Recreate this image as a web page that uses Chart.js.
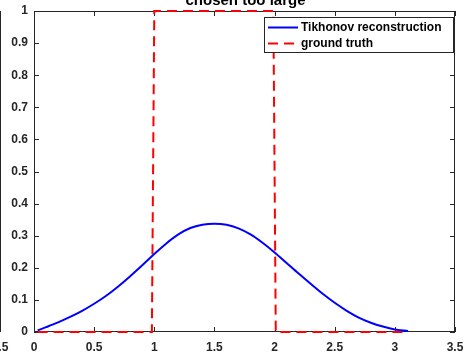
<!DOCTYPE html>
<html>
<head>
<meta charset="utf-8">
<script src="https://cdn.jsdelivr.net/npm/chart.js@4.4.0/dist/chart.umd.min.js"></script>
<style>
  html, body { margin: 0; padding: 0; background: #fff; }
  #wrap { width: 466px; height: 353px; position: relative; }
</style>
</head>
<body>
<div id="wrap"><canvas id="myChart" width="466" height="353"></canvas></div>
<script>
// values
const tikX = [0.03, 0.1, 0.2, 0.3, 0.4, 0.5, 0.6, 0.7, 0.8, 0.9, 1.0, 1.1, 1.2, 1.3, 1.4, 1.5,
              1.6, 1.7, 1.8, 1.9, 2.0, 2.1, 2.2, 2.3, 2.4, 2.5, 2.6, 2.7, 2.8, 2.9, 3.0, 3.11];
const tikY = [0.005, 0.015, 0.030, 0.047, 0.066, 0.088, 0.113, 0.142, 0.174, 0.208, 0.243, 0.276,
              0.304, 0.324, 0.334, 0.337, 0.334, 0.323, 0.304, 0.278, 0.248, 0.215, 0.182, 0.150,
              0.119, 0.091, 0.066, 0.045, 0.029, 0.017, 0.008, 0.003];
const truthX = [0.03, 0.98, 1.0, 1.99, 2.01, 3.11];
const truthY = [0, 0, 1, 1, 0, 0];
const xTicks = [0, 0.5, 1, 1.5, 2, 2.5, 3, 3.5];
const yTicks = [0, 0.1, 0.2, 0.3, 0.4, 0.5, 0.6, 0.7, 0.8, 0.9, 1];
const titleText = "chosen too large";
const seriesNames = ["Tikhonov reconstruction", "ground truth"];

const FONT = '"Liberation Sans", Arial, Helvetica, sans-serif';
const AX = '#262626';

function toPts(xs, ys) {
  return xs.map((x, i) => ({x: x, y: ys[i]}));
}

// box, inward ticks, title, legend and the edge of the neighbouring subplot
const matlabAxes = {
  id: 'matlabAxes',
  beforeDatasetsDraw(chart) {
    const {ctx, chartArea: a, scales} = chart;
    ctx.save();
    ctx.strokeStyle = AX;
    ctx.lineWidth = 1;
    ctx.strokeRect(a.left + 0.5, a.top + 0.5, a.right - a.left - 1, a.bottom - a.top - 1);
    const tl = 5;
    ctx.beginPath();
    xTicks.forEach(v => {
      const px = Math.round(scales.x.getPixelForValue(v)) + 0.5;
      ctx.moveTo(px, a.bottom); ctx.lineTo(px, a.bottom - tl);
      ctx.moveTo(px, a.top); ctx.lineTo(px, a.top + tl);
    });
    yTicks.forEach(v => {
      const py = Math.round(scales.y.getPixelForValue(v)) + 0.5;
      ctx.moveTo(a.left, py); ctx.lineTo(a.left + tl, py);
      ctx.moveTo(a.right, py); ctx.lineTo(a.right - tl, py);
    });
    ctx.stroke();
    // right border of the subplot to the left
    ctx.beginPath();
    ctx.moveTo(0.5, a.top); ctx.lineTo(0.5, a.bottom);
    ctx.stroke();
    ctx.restore();
  },
  afterDraw(chart) {
    const {ctx, chartArea: a} = chart;
    ctx.save();
    ctx.fillStyle = AX;
    ctx.font = 'bold 12px ' + FONT;
    ctx.textAlign = 'center';
    ctx.textBaseline = 'alphabetic';
    ctx.fillText('3.5', 0, 351);
    // title, cut off at the top
    ctx.fillStyle = '#000';
    ctx.font = 'bold 15px ' + FONT;
    ctx.fillText(titleText, (a.left + a.right) / 2 + 1, 5);

    // legend
    const bx = 264, by = 17, bw = 190, bh = 36;
    ctx.fillStyle = '#fff';
    ctx.fillRect(bx, by, bw, bh);
    ctx.strokeStyle = AX;
    ctx.lineWidth = 1;
    ctx.strokeRect(bx + 0.5, by + 0.5, bw - 1, bh - 1);
    ctx.font = 'bold 12px ' + FONT;
    ctx.textAlign = 'left';
    ctx.textBaseline = 'middle';
    chart.data.datasets.forEach((ds, i) => {
      const y = by + 10.5 + i * 16;
      ctx.strokeStyle = ds.borderColor;
      ctx.lineWidth = ds.borderWidth;
      ctx.setLineDash(ds.borderDash || []);
      ctx.beginPath();
      ctx.moveTo(268, y); ctx.lineTo(298, y);
      ctx.stroke();
      ctx.setLineDash([]);
      ctx.fillStyle = '#000';
      ctx.fillText(ds.label, 301, y + 0.5);
    });
    ctx.restore();
  }
};

new Chart(document.getElementById('myChart').getContext('2d'), {
  type: 'scatter',
  data: {
    datasets: [
      {
        label: seriesNames[0],
        data: toPts(tikX, tikY),
        showLine: true,
        borderColor: '#0000ff',
        borderWidth: 2,
        pointRadius: 0,
        clip: false,
        cubicInterpolationMode: 'monotone'
      },
      {
        label: seriesNames[1],
        data: toPts(truthX, truthY),
        showLine: true,
        borderColor: '#ff0000',
        borderWidth: 2,
        borderDash: [10, 6],
        pointRadius: 0,
        clip: false,
        tension: 0
      }
    ]
  },
  options: {
    responsive: false,
    animation: false,
    layout: {padding: {top: 11, right: 11, left: 0, bottom: 0}},
    plugins: {legend: {display: false}, tooltip: {enabled: false}, title: {display: false}},
    scales: {
      x: {
        type: 'linear', min: 0, max: 3.5,
        afterBuildTicks: s => { s.ticks = xTicks.map(v => ({value: v})); },
        afterFit: s => { s.height = 21; s.paddingLeft = 0; s.paddingRight = 0; },
        grid: {display: false, drawTicks: false},
        border: {display: false},
        ticks: {
          padding: 8, color: AX, maxRotation: 0,
          font: {family: FONT, size: 12, weight: 'bold'},
          callback: v => String(Number(v.toFixed(1)))
        }
      },
      y: {
        type: 'linear', min: 0, max: 1,
        afterBuildTicks: s => { s.ticks = yTicks.map(v => ({value: v})); },
        afterFit: s => { s.width = 34; s.paddingTop = 0; s.paddingBottom = 0; },
        grid: {display: false, drawTicks: false},
        border: {display: false},
        ticks: {
          padding: 6, color: AX,
          font: {family: FONT, size: 12, weight: 'bold'},
          callback: v => String(Number(v.toFixed(1)))
        }
      }
    }
  },
  plugins: [matlabAxes]
});
</script>
</body>
</html>
